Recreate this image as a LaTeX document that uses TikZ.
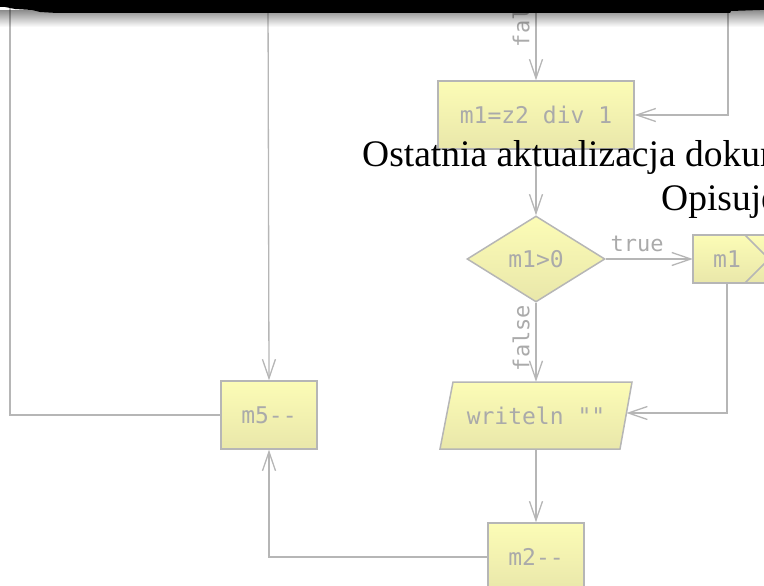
\documentclass[tikz,border=0pt]{standalone}
\usepackage{fontspec}
\setmainfont{Liberation Serif}
\newfontfamily\codefont{DejaVu Sans Mono}
\usetikzlibrary{arrows.meta,shapes.geometric,calc,fadings}

\definecolor{edgegray}{RGB}{182,182,182}
\definecolor{labelgray}{RGB}{170,170,170}
\definecolor{filltop}{RGB}{252,252,182}
\definecolor{fillbot}{RGB}{233,231,170}

\tikzset{
  codetext/.style={text=labelgray, font=\codefont\fontsize{23}{27}\selectfont, inner sep=0pt},
  flowbox/.style={codetext, draw=edgegray, line width=1.5pt, top color=filltop, bottom color=fillbot},
  conn/.style={draw=edgegray, line width=1.3pt},
  flow/.style={conn, -{Straight Barb[length=19pt,width=13pt,line width=1.3pt]}},
  edgelabel/.style={text=labelgray, font=\codefont\fontsize{22}{26}\selectfont, inner sep=0pt},
  headline/.style={text=black, font=\fontsize{37.5}{44}\selectfont, inner sep=0pt, anchor=base west},
}

\begin{document}
\begin{tikzpicture}[x=1pt, y=-1pt]
  \useasboundingbox (0,0) rectangle (764,586);
  \clip (0,0) rectangle (764,586);

  % loose ends coming down from the part of the chart above
  \coordinate (inL) at (10,-5);
  \coordinate (inA) at (268,-5);
  \coordinate (inB) at (536,-5);
  \coordinate (inC) at (728,-5);

  % blocks
  \node[flowbox, minimum width=196pt, minimum height=68pt] (div) at (536,115) {m1=z2 div 1};
  \node[flowbox, diamond, minimum width=138pt, minimum height=86pt] (test) at (536,259) {m1>0};

  % m1 block running past the right edge, with its chevron
  \path[flowbox] (693,235) rectangle (820,283);
  \node[codetext, minimum width=68pt, minimum height=48pt] (mone) at (727,259) {m1};
  \draw[conn, line width=1.5pt] (745,235) -- (769,259) -- (745,283);

  % output block (parallelogram)
  \path[flowbox] (453,382) -- (632,382) -- (620,449) -- (440,449) -- cycle;
  \node[codetext, minimum width=180pt, minimum height=67pt] (out) at (536,415.5) {writeln ""};
  \coordinate (outR) at (626.4,413);

  \node[flowbox, minimum width=96pt, minimum height=68pt] (mfive) at (269,415) {m5--};
  \node[flowbox, minimum width=96pt, minimum height=68pt] (mtwo) at (536,557) {m2--};

  % connectors
  \draw[conn] (mfive.west) -| (inL);
  \draw[flow] (inA) -- (mfive.north);
  \draw[flow] (inB) -- (div.north);
  \node[edgelabel, rotate=90] (fA) at (521,14) {false};
  \draw[flow] (inC) |- (div.east);
  \draw[flow] (div.south) -- (test.north);
  \draw[flow] (test.east) -- node[edgelabel, pos=0.36, above=7pt] (tA) {true} (mone.west);
  \draw[flow] (test.south) -- (out.north);
  \node[edgelabel, rotate=90] (fB) at (521,338) {false};
  \draw[flow] (mone.south) |- (outR);
  \draw[flow] (out.south) -- (mtwo.north);
  \draw[flow] (mtwo.west) -| (mfive.south);

  % header bar with its soft shadow
  \fill[black, path fading=south, fill opacity=0.45] (0,10) rectangle (764,27);
  \fill[black] (-2,-5) -- (766,-5) -- (766,10) -- (760,10) -- (731,11) -- (730,13)
     -- (57,13) -- (40,12) -- (32,10) -- (15,9) -- (5,7) -- (-2,7) -- cycle;

  % headline text set over the chart
  \node[headline] (hOne) at (362,167) {Ostatnia aktualizacja dokumentu};
  \node[headline] (hTwo) at (661,210) {Opisuje};
\end{tikzpicture}
\end{document}
